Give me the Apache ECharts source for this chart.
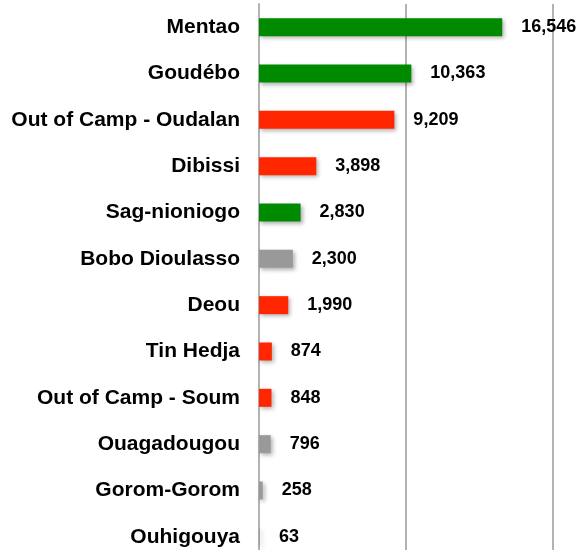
<!DOCTYPE html>
<html>
<head>
<meta charset="utf-8">
<script src="https://cdn.jsdelivr.net/npm/echarts@6/dist/echarts.min.js"></script>
<style>
  html, body { margin: 0; padding: 0; background: #fff; }
  #chart { width: 579px; height: 550px; }
</style>
</head>
<body>
<div id="chart"></div>
<script>
var sites = ['Mentao', 'Goudébo', 'Out of Camp - Oudalan', 'Dibissi', 'Sag-nioniogo',
  'Bobo Dioulasso', 'Deou', 'Tin Hedja', 'Out of Camp - Soum', 'Ouagadougou',
  'Gorom-Gorom', 'Ouhigouya'];
var refugees = [16546, 10363, 9209, 3898, 2830, 2300, 1990, 874, 848, 796, 258, 63];
var siteType = ['camp', 'camp', 'out', 'out', 'camp', 'urban', 'out', 'out', 'out', 'urban', 'urban', 'urban'];

var typeColors = { camp: '#008a00', out: '#ff2600', urban: '#999999' };

var chart = echarts.init(document.getElementById('chart'));

var bars = refugees.map(function (v, i) {
  return { value: v, itemStyle: { color: typeColors[siteType[i]] } };
});

chart.setOption({
  animation: false,
  grid: { left: 259, width: 294, top: 4, height: 556, outerBoundsMode: 'none', containLabel: false },
  xAxis: {
    type: 'value',
    min: 0,
    max: 20000,
    interval: 10000,
    axisLabel: { show: false },
    axisTick: { show: false },
    axisLine: { show: false },
    splitLine: { lineStyle: { color: '#b3b3b3', width: 2 } }
  },
  yAxis: {
    type: 'category',
    data: sites,
    inverse: true,
    axisTick: { show: false },
    axisLine: { lineStyle: { color: '#b3b3b3', width: 2 } },
    axisLabel: {
      margin: 19,
      color: '#000',
      fontFamily: 'Liberation Sans',
      fontWeight: 'bold',
      fontSize: 21,
      padding: [3, 0, 0, 0]
    }
  },
  series: [{
    type: 'bar',
    data: bars,
    barWidth: 18,
    itemStyle: {
      shadowBlur: 4,
      shadowOffsetX: 2,
      shadowOffsetY: 2,
      shadowColor: 'rgba(0,0,0,0.3)'
    },
    label: {
      show: true,
      position: 'right',
      distance: 19,
      color: '#000',
      fontFamily: 'Liberation Sans',
      fontWeight: 'bold',
      fontSize: 18,
      padding: [3, 0, 0, 0],
      formatter: function (p) { return p.value.toLocaleString('en-US'); }
    }
  }]
});
</script>
</body>
</html>
